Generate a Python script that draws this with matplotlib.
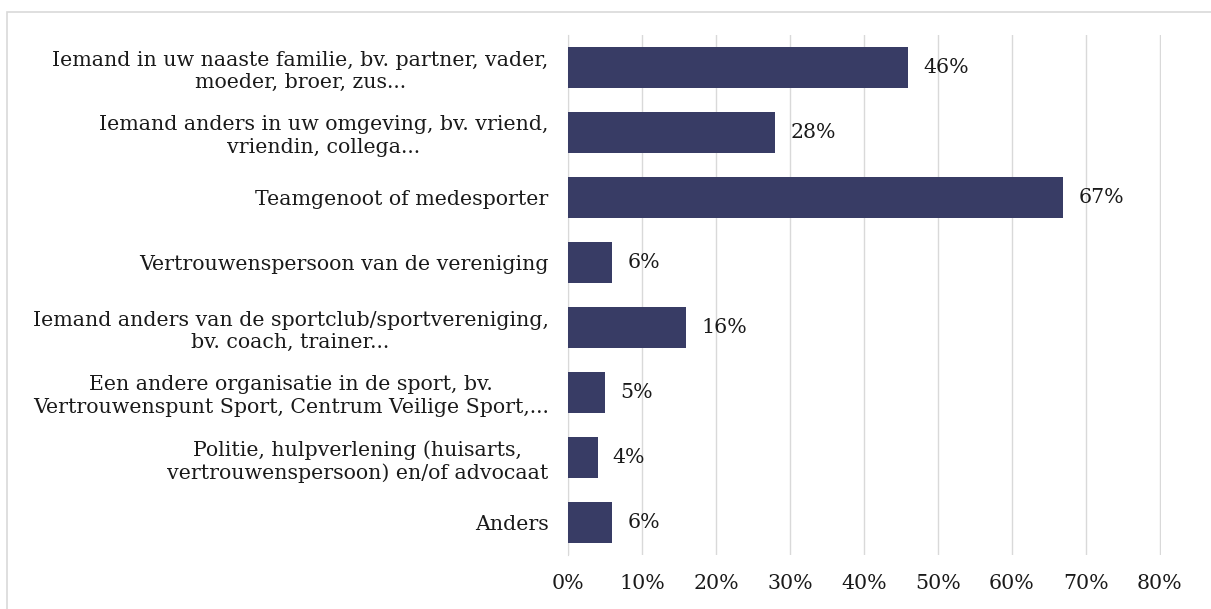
import matplotlib.pyplot as plt
from matplotlib.patches import Rectangle
from matplotlib.ticker import PercentFormatter

categories = [
    'Iemand in uw naaste familie, bv. partner, vader,\nmoeder, broer, zus...',
    'Iemand anders in uw omgeving, bv. vriend,\nvriendin, collega...',
    'Teamgenoot of medesporter',
    'Vertrouwenspersoon van de vereniging',
    'Iemand anders van de sportclub/sportvereniging,\nbv. coach, trainer...',
    'Een andere organisatie in de sport, bv.\nVertrouwenspunt Sport, Centrum Veilige Sport,...',
    'Politie, hulpverlening (huisarts,\nvertrouwenspersoon) en/of advocaat',
    'Anders',
]
values = [46, 28, 67, 6, 16, 5, 4, 6]
xticks = [0, 10, 20, 30, 40, 50, 60, 70, 80]

plt.rcParams['font.family'] = ['DejaVu Serif']
text_col = '#1a1a1a'
bar_col = '#383C65'
fs = 14.8

fig = plt.figure(figsize=(12.11, 6.09), dpi=100)
ax = fig.add_axes([568 / 1211, 1 - 555 / 609, (1161 - 568) / 1211, (555 - 35) / 609])

y = list(range(len(categories)))
ax.barh(y, values, height=0.62, color=bar_col, zorder=3)
ax.set_ylim(len(categories) - 0.5, -0.5)
ax.set_xlim(0, 80.2)
ax.set_xticks(xticks)
ax.xaxis.set_major_formatter(PercentFormatter(decimals=0))
ax.set_yticks(y)
ax.set_yticklabels(categories, fontsize=fs, color=text_col,
                   multialignment='center', linespacing=1.22)
ax.tick_params(axis='both', length=0, colors=text_col)
ax.tick_params(axis='y', pad=14)
ax.tick_params(axis='x', labelsize=fs, pad=14)
ax.grid(axis='x', color='#D9D9D9', linewidth=1, zorder=0)
for s in ['top', 'right', 'bottom']:
    ax.spines[s].set_visible(False)
ax.spines['left'].set_color('#D9D9D9')

for yi, v in zip(y, values):
    ax.annotate(f'{v}%', (v, yi), xytext=(11, 0), textcoords='offset points',
                va='center', ha='left', fontsize=fs, color=text_col)

fig.patches.append(Rectangle((7 / 1211, -0.05), 1.05, 1 - 12 / 609 + 0.05,
                             transform=fig.transFigure, fill=False,
                             edgecolor='#D9D9D9', linewidth=1.2))

fig.savefig('out.png', dpi=100)
